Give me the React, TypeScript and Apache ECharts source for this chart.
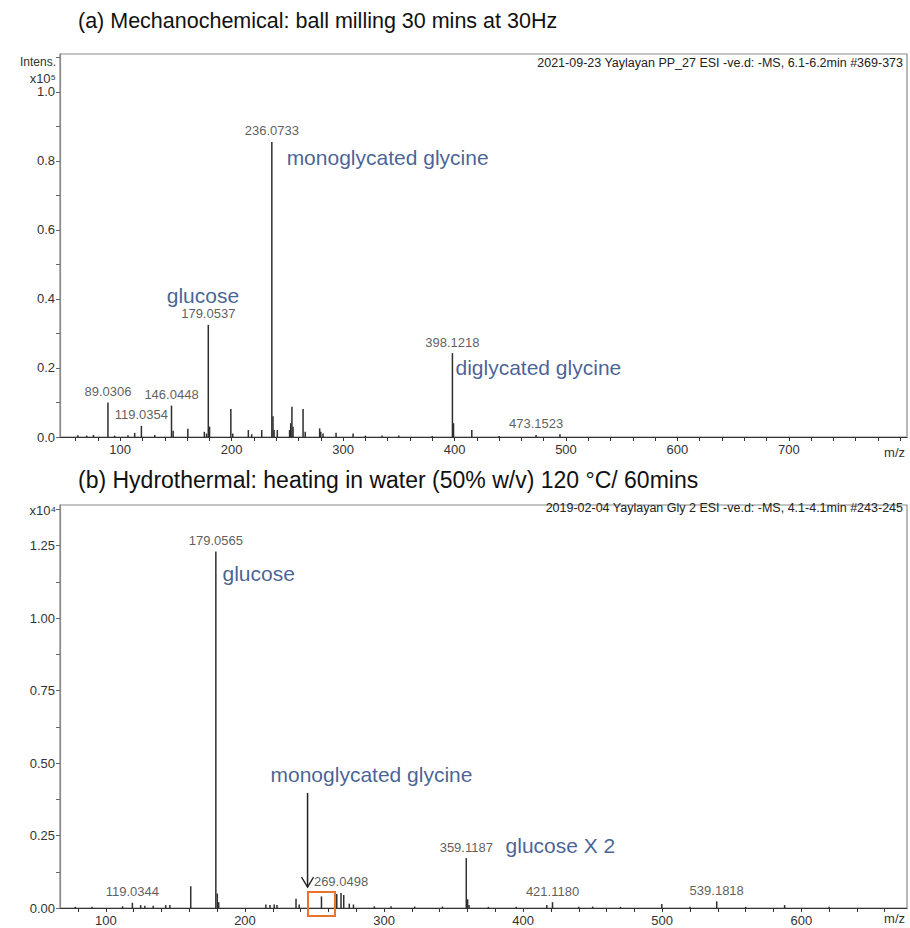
import React, { useEffect, useRef } from "react";
import * as echarts from "echarts";

// ---------- DATA ----------
// Panel (a): mechanochemical, intensity in units of 1e5
const topPeaks: [number, number][] = [
  [62, 0.005], [70, 0.004], [76, 0.006], [89.0306, 0.1], [95, 0.004], [107, 0.005],
  [113, 0.012], [119.0354, 0.032], [131, 0.006], [146.0448, 0.091], [147.5, 0.018],
  [160.7, 0.024], [175.5, 0.015], [177.5, 0.01], [179.0537, 0.325], [180.2, 0.03],
  [199.3, 0.081], [201, 0.01], [215, 0.02], [218, 0.008], [227, 0.02],
  [236.0733, 0.855], [237.1, 0.06], [238.1, 0.02], [241, 0.02], [252, 0.02],
  [253, 0.04], [254.1, 0.088], [255.1, 0.03], [264.1, 0.081], [266, 0.015],
  [279, 0.025], [280, 0.015], [282, 0.01], [293.7, 0.012], [309, 0.01],
  [320, 0.004], [335, 0.004], [350, 0.004], [380, 0.003], [398.1218, 0.243],
  [399.1, 0.04], [415.5, 0.02], [440, 0.003], [473.1523, 0.006], [494.6, 0.008],
];
const topPeakLabels: [number, number, string][] = [
  [89.0306, 0.1, "89.0306"],
  [119.0354, 0.032, "119.0354"],
  [146.0448, 0.091, "146.0448"],
  [179.0537, 0.325, "179.0537"],
  [236.0733, 0.855, "236.0733"],
  [398.1218, 0.243, "398.1218"],
  [473.1523, 0.006, "473.1523"],
];
const topNotes: [number, number, string][] = [
  [141.3, 0.409, "glucose"],
  [248.9, 0.809, "monoglycated glycine"],
  [400.4, 0.2, "diglycated glycine"],
];

// Panel (b): hydrothermal, intensity in units of 1e4
const bottomPeaks: [number, number][] = [
  [78, 0.004], [90, 0.004], [112, 0.006], [119.0344, 0.018], [125, 0.01], [128, 0.008],
  [134, 0.008], [143, 0.01], [146, 0.01], [161, 0.075], [179.0565, 1.23],
  [180.1, 0.05], [181.1, 0.02], [215, 0.012], [218, 0.01], [221, 0.012], [223, 0.01],
  [236.7, 0.032], [239, 0.012], [255, 0.04], [266, 0.048], [269.0498, 0.052],
  [271, 0.045], [275, 0.015], [278, 0.012], [293, 0.006], [305, 0.006],
  [322, 0.005], [342, 0.005], [359.1187, 0.172], [360.1, 0.03], [361.1, 0.01],
  [375, 0.004], [395, 0.004], [417, 0.01], [421.118, 0.02], [440, 0.004],
  [450, 0.005], [470, 0.004], [499.7, 0.014], [520, 0.004], [539.1818, 0.023],
  [560, 0.004], [588, 0.01], [620, 0.004],
];
const bottomPeakLabels: [number, number, string][] = [
  [119.0344, 0.018, "119.0344"],
  [179.0565, 1.23, "179.0565"],
  [269.0498, 0.052, "269.0498"],
  [359.1187, 0.172, "359.1187"],
  [421.118, 0.02, "421.1180"],
  [539.1818, 0.023, "539.1818"],
];
const bottomNotes: [number, number, string][] = [
  [183.5, 1.155, "glucose"],
  [218, 0.459, "monoglycated glycine"],
  [387, 0.214, "glucose X 2"],
];
// arrow: [m/z, from intensity, to intensity]
const bottomArrow: [number, number, number][] = [[245, 0.397, 0.072]];
// highlight box: [m/z from, m/z to, intensity from, intensity to]
const bottomBox: [number, number, number, number][] = [[245.3, 264.7, -0.028, 0.055]];

const topTitle = "(a) Mechanochemical: ball milling 30 mins at 30Hz";
const bottomTitle = "(b) Hydrothermal: heating in water (50% w/v) 120 °C/ 60mins";
const topHeader = "2021-09-23 Yaylayan PP_27 ESI -ve.d: -MS, 6.1-6.2min #369-373";
const bottomHeader = "2019-02-04 Yaylayan Gly 2 ESI -ve.d: -MS, 4.1-4.1min #243-245";

const FONT = "Liberation Sans, Arial, sans-serif";
const BLUE = "#17397a";

function peakSeries(data: [number, number][], axis: number) {
  return {
    type: "custom",
    xAxisIndex: axis,
    yAxisIndex: axis,
    data,
    encode: { x: 0, y: 1 },
    renderItem: (_p: any, api: any) => {
      const x = api.value(0);
      const y = api.value(1);
      const a = api.coord([x, 0]);
      const b = api.coord([x, y]);
      return {
        type: "line",
        shape: { x1: a[0], y1: a[1], x2: b[0], y2: b[1] },
        style: { stroke: "#2e2e2e", lineWidth: 1.5 },
      };
    },
    silent: true,
    z: 3,
  };
}

function labelSeries(data: [number, number, string][], axis: number) {
  return {
    type: "scatter",
    xAxisIndex: axis,
    yAxisIndex: axis,
    symbolSize: 1,
    itemStyle: { color: "rgba(0,0,0,0)" },
    data: data.map((d) => ({ value: [d[0], d[1]], name: d[2] })),
    label: {
      show: true,
      position: "top",
      distance: 4,
      formatter: "{b}",
      fontFamily: FONT,
      fontSize: 13,
      color: "#333",
    },
    silent: true,
    z: 4,
  };
}

function noteSeries(data: [number, number, string][], axis: number) {
  return {
    type: "scatter",
    xAxisIndex: axis,
    yAxisIndex: axis,
    symbolSize: 1,
    itemStyle: { color: "rgba(0,0,0,0)" },
    data: data.map((d) => ({ value: [d[0], d[1]], name: d[2] })),
    label: {
      show: true,
      position: "right",
      distance: 0,
      formatter: "{b}",
      fontFamily: FONT,
      fontSize: 21,
      color: BLUE,
    },
    silent: true,
    z: 4,
  };
}

function xAxisCfg(min: number, max: number, grid: number, splitNumber: number, lastLabel: number) {
  return {
    type: "value",
    gridIndex: grid,
    min,
    max,
    splitNumber,
    axisLine: { show: true, onZero: false, lineStyle: { color: "#333", width: 1.2 } },
    axisTick: { show: true, length: 4, lineStyle: { color: "#333" } },
    axisLabel: {
      showMinLabel: false,
      showMaxLabel: false,
      fontFamily: FONT,
      fontSize: 13,
      color: "#333",
      margin: 6,
      formatter: (v: number) =>
        Math.abs(v % 100) < 1e-6 && v <= lastLabel ? String(Math.round(v)) : "",
    },
    splitLine: { show: false },
  };
}

export default function App() {
  const ref = useRef<HTMLDivElement>(null);
  useEffect(() => {
    if (!ref.current) return;
    const chart = echarts.init(ref.current, undefined, { renderer: "svg" });
    const option: any = {
      animation: false,
      backgroundColor: "#fff",
      grid: [
        { left: 60, top: 54, width: 847, height: 383, show: true, borderColor: "#8a8a8a", borderWidth: 1.2 },
        { left: 60, top: 505, width: 847, height: 403, show: true, borderColor: "#8a8a8a", borderWidth: 1.2 },
      ],
      xAxis: [xAxisCfg(46, 806, 0, 38, 700), xAxisCfg(67, 676, 1, 30, 600)],
      yAxis: [
        {
          type: "value",
          gridIndex: 0,
          min: 0,
          max: 1.11,
          interval: 0.1,
          axisLine: { show: true, lineStyle: { color: "#8a8a8a", width: 1.2 } },
          axisTick: { show: true, length: 4, lineStyle: { color: "#666" } },
          axisLabel: {
            fontFamily: FONT,
            fontSize: 13,
            color: "#333",
            margin: 5,
            showMaxLabel: false,
            formatter: (v: number) => (Math.abs(v * 5 - Math.round(v * 5)) < 1e-6 ? v.toFixed(1) : ""),
          },
          splitLine: { show: false },
        },
        {
          type: "value",
          gridIndex: 1,
          min: 0,
          max: 1.39,
          interval: 0.125,
          axisLine: { show: true, lineStyle: { color: "#8a8a8a", width: 1.2 } },
          axisTick: { show: true, length: 4, lineStyle: { color: "#666" } },
          axisLabel: {
            fontFamily: FONT,
            fontSize: 13,
            color: "#333",
            margin: 5,
            showMaxLabel: false,
            formatter: (v: number) => (Math.abs(v * 4 - Math.round(v * 4)) < 1e-6 ? v.toFixed(2) : ""),
          },
          splitLine: { show: false },
        },
      ],
      graphic: [
        { type: "text", left: 78, top: 10, style: { text: topTitle, font: `21.5px ${FONT}`, fill: "#111" } },
        { type: "text", left: 78, top: 468, style: { text: bottomTitle, font: `23px ${FONT}`, fill: "#111" } },
        { type: "text", x: 903, y: 63, style: { text: topHeader, font: `12.5px ${FONT}`, fill: "#222", align: "right", verticalAlign: "middle" } },
        { type: "text", x: 903, y: 508, style: { text: bottomHeader, font: `12.5px ${FONT}`, fill: "#222", align: "right", verticalAlign: "middle" } },
        { type: "text", x: 56, y: 62, style: { text: "Intens.", font: `12px ${FONT}`, fill: "#333", align: "right", verticalAlign: "middle" } },
        { type: "text", x: 56, y: 78, style: { text: "x10⁵", font: `13px ${FONT}`, fill: "#333", align: "right", verticalAlign: "middle" } },
        { type: "text", x: 56, y: 510, style: { text: "x10⁴", font: `13px ${FONT}`, fill: "#333", align: "right", verticalAlign: "middle" } },
        { type: "text", x: 905, y: 452, style: { text: "m/z", font: `13px ${FONT}`, fill: "#333", align: "right", verticalAlign: "middle" } },
        { type: "text", x: 905, y: 918, style: { text: "m/z", font: `13px ${FONT}`, fill: "#333", align: "right", verticalAlign: "middle" } },
      ],
      series: [
        peakSeries(topPeaks, 0),
        labelSeries(topPeakLabels, 0),
        noteSeries(topNotes, 0),
        peakSeries(bottomPeaks, 1),
        labelSeries(bottomPeakLabels, 1),
        noteSeries(bottomNotes, 1),
        {
          type: "custom",
          xAxisIndex: 1,
          yAxisIndex: 1,
          data: bottomArrow,
          encode: { x: 0, y: [1, 2] },
          clip: false,
          silent: true,
          z: 5,
          renderItem: (_p: any, api: any) => {
            const x = api.value(0);
            const a = api.coord([x, api.value(1)]);
            const b = api.coord([x, api.value(2)]);
            return {
              type: "group",
              children: [
                { type: "line", shape: { x1: a[0], y1: a[1], x2: b[0], y2: b[1] }, style: { stroke: "#222", lineWidth: 1.5 } },
                {
                  type: "polyline",
                  shape: { points: [[b[0] - 6, b[1] - 10], [b[0], b[1]], [b[0] + 6, b[1] - 10]] },
                  style: { stroke: "#222", lineWidth: 1.3, fill: "none" },
                },
              ],
            };
          },
        },
        {
          type: "custom",
          xAxisIndex: 1,
          yAxisIndex: 1,
          data: bottomBox,
          encode: { x: [0, 1], y: [2, 3] },
          clip: false,
          silent: true,
          z: 6,
          renderItem: (_p: any, api: any) => {
            const p1 = api.coord([api.value(0), api.value(3)]);
            const p2 = api.coord([api.value(1), api.value(2)]);
            return {
              type: "rect",
              shape: { x: p1[0], y: p1[1], width: p2[0] - p1[0], height: p2[1] - p1[1] },
              style: { stroke: "#e8732a", lineWidth: 2, fill: "none" },
            };
          },
        },
      ],
    };
    chart.setOption(option);
    return () => chart.dispose();
  }, []);
  return <div ref={ref} style={{ position: "fixed", left: 0, top: 0, width: 910, height: 928 }} />;
}
